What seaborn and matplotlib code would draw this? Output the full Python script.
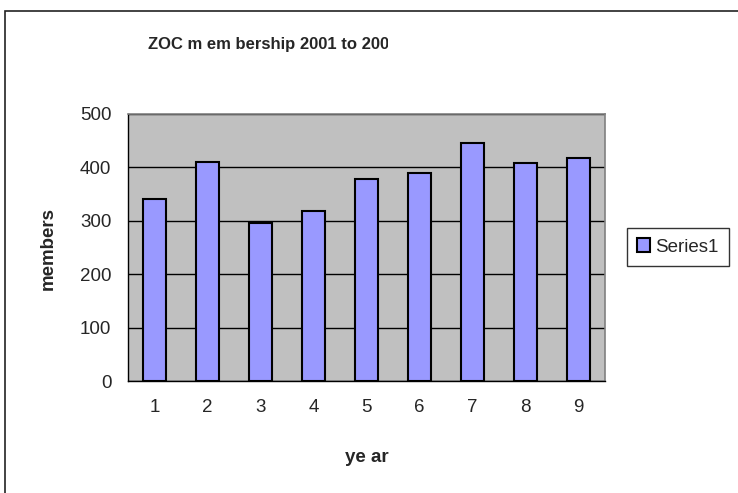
import matplotlib
matplotlib.use("Agg")
import matplotlib.pyplot as plt
import seaborn as sns
import pandas as pd
from matplotlib.patches import Rectangle

years = ["1", "2", "3", "4", "5", "6", "7", "8", "9"]
members = [340, 411, 295, 318, 378, 390, 445, 408, 418]
yticks = [0, 100, 200, 300, 400, 500]
series_name = "Series1"
title = "ZOC m em bership 2001 to 2009"

sns.set_style("white")
plt.rcParams["font.family"] = ["Liberation Sans", "DejaVu Sans"]

W, H = 738, 493
fig = plt.figure(figsize=(W / 100, H / 100), dpi=100)
fig.patch.set_facecolor("white")

# outer chart border
fig.add_artist(Rectangle((5 / W, -0.1), 1.2, 1 - 11 / H + 0.1, transform=fig.transFigure,
                         fill=False, edgecolor="#222222", linewidth=1.2, zorder=1))

ax = fig.add_axes([128 / W, 1 - 381 / H, (605 - 128) / W, (381 - 114) / H])
ax.set_facecolor("#C0C0C0")

df = pd.DataFrame({"year": years, "members": members})
sns.barplot(data=df, x="year", y="members", color="#9999FF", saturation=1,
            width=0.42, edgecolor="black", linewidth=1.5, ax=ax, label=series_name,
            zorder=3)

ax.set_ylim(0, 500)
ax.set_xlim(-0.5, len(years) - 0.5)
ax.set_yticks(yticks)
ax.set_yticklabels([str(v) for v in yticks], fontsize=13.5)
ax.set_xticks(range(len(years)))
ax.set_xticklabels(years, fontsize=13.5)
ax.set_xticks([i - 0.5 for i in range(len(years) + 1)], minor=True)
ax.tick_params(axis="x", which="major", length=0, pad=13)
ax.tick_params(axis="x", which="minor", length=5, width=1, color="black", direction="out")
ax.tick_params(axis="y", which="major", length=5, width=1, color="black", direction="out", pad=7)
ax.yaxis.grid(True, color="black", linewidth=1, zorder=1)
ax.set_axisbelow(True)
for s in ["top", "right"]:
    ax.spines[s].set_color("#808080")
    ax.spines[s].set_linewidth(1.2)
for s in ["left", "bottom"]:
    ax.spines[s].set_color("black")
    ax.spines[s].set_linewidth(1)

ax.set_xlabel("ye ar", fontsize=13.5, fontweight="bold")
ax.set_ylabel("members", fontsize=13.5, fontweight="bold")
ax.xaxis.set_label_coords((367 - 128) / 477, (381 - 457) / 267)
ax.yaxis.set_label_coords((48 - 128) / 477, (381 - 248) / 267)
ax.xaxis.label.set_va("center")
ax.yaxis.label.set_va("center")

fig.text(148 / W, 1 - 45 / H, title, fontsize=12, fontweight="bold",
         ha="left", va="center", zorder=3)
# the title is cut off at its right end in the original
fig.add_artist(Rectangle((388 / W, 1 - 60 / H), 80 / W, 30 / H, transform=fig.transFigure,
                         facecolor="white", edgecolor="none", zorder=6))

leg = ax.legend(loc="center left", bbox_to_anchor=(627 / W, 1 - 247 / H),
                bbox_transform=fig.transFigure, frameon=True, fancybox=False,
                fontsize=13.5, handlelength=0.7, handleheight=0.7, handletextpad=0.25,
                borderpad=0.55, borderaxespad=0)
leg.get_frame().set_edgecolor("black")
leg.get_frame().set_linewidth(1)

fig.savefig("out.png", dpi=100)
